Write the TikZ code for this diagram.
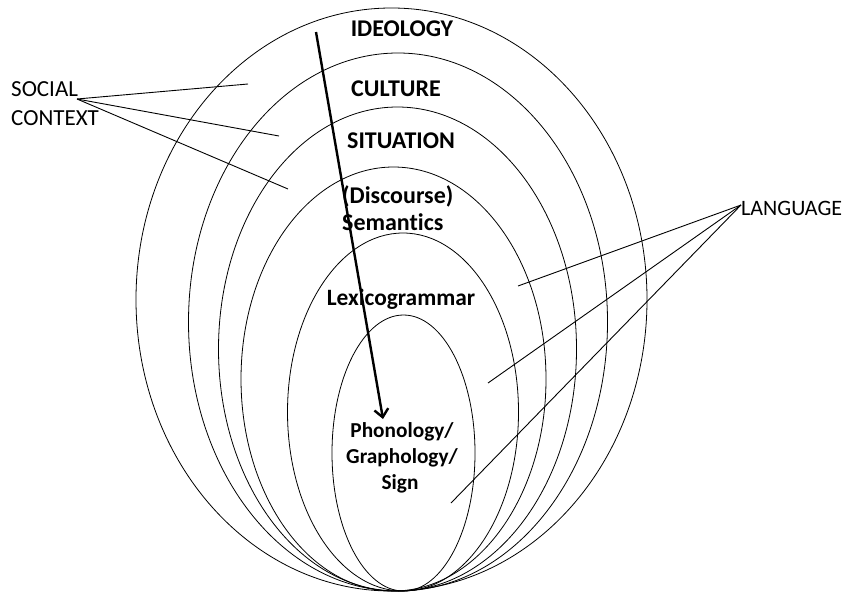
\documentclass[tikz,border=0pt]{standalone}
\usepackage{fontspec}
\setmainfont[Ligatures=NoCommon]{Carlito}
\usetikzlibrary{arrows.meta}
\begin{document}
\begin{tikzpicture}[x=1pt,y=-1pt,
  ring/.style={draw=black,line width=0.8pt},
  conn/.style={draw=black,line width=0.9pt},
  lbl/.style={inner sep=0pt,font=\fontsize{24}{28}\selectfont\bfseries,anchor=base},
  lblw/.style={inner sep=0pt,font=\fontsize{24}{28}\selectfont\bfseries,anchor=base west},
  small/.style={inner sep=0pt,font=\fontsize{21.3}{25}\selectfont\bfseries,anchor=base},
  side/.style={inner sep=0pt,font=\fontsize{23}{27}\selectfont,anchor=base west}]
\useasboundingbox (0,0) rectangle (842,592);
\fill[white] (0,0) rectangle (842,592);
% nested ellipses
\draw[ring] (391.5,299.5) ellipse [x radius=255.5pt, y radius=291.5pt];
\draw[ring] (398,322) ellipse [x radius=209.5pt, y radius=269pt];
\draw[ring] (397.5,349) ellipse [x radius=179pt, y radius=242pt];
\draw[ring] (393.5,379) ellipse [x radius=152.5pt, y radius=212pt];
\draw[ring] (403,412) ellipse [x radius=115.5pt, y radius=179pt];
\draw[ring] (403.5,453) ellipse [x radius=71.5pt, y radius=138pt];
% labels
\node[lbl] (ideo) at (402,36) {IDEOLOGY};
\node[lbl] (cult) at (396,96) {CULTURE};
\node[lbl] (situ) at (401,148) {SITUATION};
\node[lblw] (disc) at (342,203) {(Discourse)};
\node[lblw] (sem) at (342,230) {Semantics};
\node[lbl,font=\fontsize{23.4}{27}\selectfont\bfseries] (lex) at (401,305) {Lexicogrammar};
\node[small] (phon) at (402,437) {Phonology/};
\node[small] (graph) at (402,463) {Graphology/};
\node[small] (sign) at (400,489) {Sign};
\node[side] (social) at (11,96) {SOCIAL};
\node[side] (context) at (11,125) {CONTEXT};
\node[side,font=\fontsize{22}{26}\selectfont] (lang) at (741,215) {LANGUAGE};
% connector points
\coordinate (sc) at (77,99);
\coordinate (s1) at (248,84);
\coordinate (s2) at (279,136);
\coordinate (s3) at (288,189);
\coordinate (lc) at (741,205);
\coordinate (l1) at (518,286);
\coordinate (l2) at (488,383);
\coordinate (l3) at (451,503);
\draw[conn] (sc) -- (s1);
\draw[conn] (sc) -- (s2);
\draw[conn] (sc) -- (s3);
\draw[conn] (lc) -- (l1);
\draw[conn] (lc) -- (l2);
\draw[conn] (lc) -- (l3);
% arrow
\coordinate (astart) at (316,32);
\coordinate (aend) at (383,419);
\draw[line width=2.4pt,-{Straight Barb[length=8pt,width=14pt,line width=2.4pt]}] (astart) -- (aend);
\end{tikzpicture}
\end{document}
